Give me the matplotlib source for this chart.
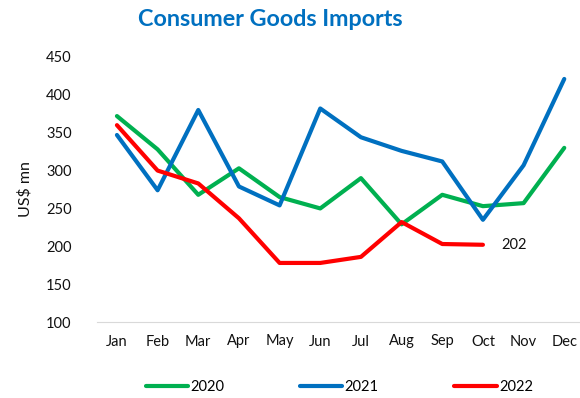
import matplotlib
matplotlib.use("Agg")
import matplotlib.pyplot as plt

months = ["Jan", "Feb", "Mar", "Apr", "May", "Jun", "Jul", "Aug", "Sep", "Oct", "Nov", "Dec"]
y2020 = [372, 328, 268, 303, 265, 250, 290, 229, 268, 253, 257, 330]
y2021 = [347, 274, 380, 279, 254, 382, 344, 326, 312, 235, 307, 421]
y2022 = [360, 300, 283, 237, 178, 178, 186, 232, 203, 202]
yticks = [100, 150, 200, 250, 300, 350, 400, 450]

plt.rcParams['font.family'] = ['Lato', 'DejaVu Sans']

fig = plt.figure(figsize=(5.8, 3.98), dpi=100)
ax = fig.add_axes([96.6 / 580, 76 / 398, 488 / 580, 265 / 398])

x = list(range(len(months)))
ax.plot(x, y2020, color="#00B050", lw=3, label="2020", solid_capstyle="round")
ax.plot(x, y2021, color="#0070C0", lw=3, label="2021", solid_capstyle="round")
ax.plot(list(range(len(y2022))), y2022, color="#FF0000", lw=3, label="2022", solid_capstyle="round")

ax.annotate(str(y2022[-1]), xy=(len(y2022) - 1, y2022[-1]), xytext=(13, 0),
            textcoords="offset points", va="center", ha="left", fontsize=10.5, color="#111111")

ax.set_xlim(-0.5, 11.5)
ax.set_ylim(100, 450)
ax.set_yticks(yticks)
ax.set_xticks(x)
ax.set_xticklabels(months)
ax.tick_params(axis="both", length=0, labelsize=10.5, colors="#111111")
ax.tick_params(axis="y", pad=18)
ax.tick_params(axis="x", pad=9)
for s in ["top", "right", "left"]:
    ax.spines[s].set_visible(False)
ax.spines["bottom"].set_color("#D9D9D9")
ax.set_ylabel("US$ mn", fontsize=11.5, color="#111111", labelpad=10)

fig.text(0.4655, 0.95, "Consumer Goods Imports", ha="center", va="center",
         fontsize=16.8, fontweight="bold", color="#0070C0")

leg = fig.legend(loc="center", bbox_to_anchor=(0.585, 0.027), ncol=3, frameon=False,
                 fontsize=10.5, handlelength=2.9, handletextpad=0.15, columnspacing=5.2)

fig.savefig("out.png", dpi=100)
